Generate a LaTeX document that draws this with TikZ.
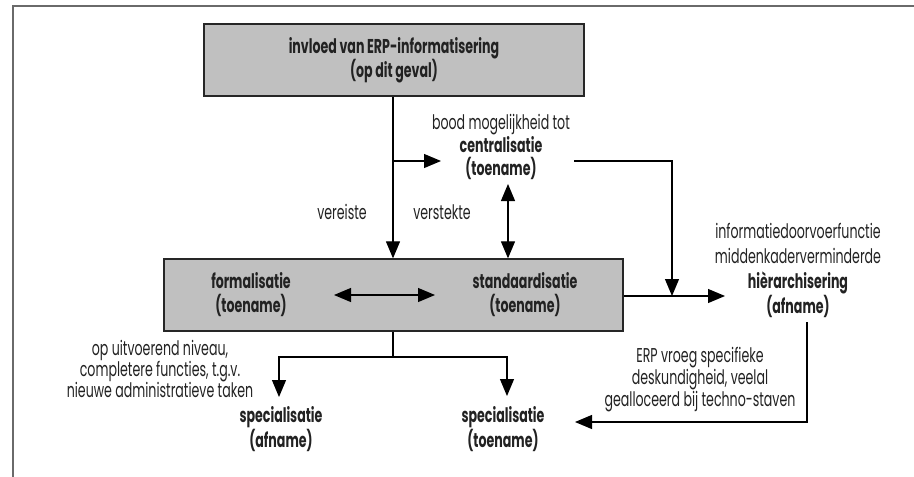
\documentclass[tikz,border=0pt]{standalone}
\usepackage{fontspec}
\setmainfont[FakeStretch=0.63]{Poppins}
\usetikzlibrary{arrows.meta}
\definecolor{boxgray}{HTML}{C0C0C0}
\definecolor{framegray}{HTML}{6A6A6A}
\definecolor{txt}{HTML}{222222}
\tikzset{
  box/.style={draw=black!85, line width=1.3pt, fill=boxgray, inner sep=0pt},
  lbl/.style={align=center, inner sep=0pt, text=txt, font=\fontsize{20}{23}\selectfont},
  conn/.style={line width=1.2pt, draw=black},
  arr/.style={conn, -{Triangle[length=17pt,width=14pt]}},
  darr/.style={conn, {Triangle[length=17pt,width=14pt]}-{Triangle[length=17pt,width=14pt]}},
}
\begin{document}
\begin{tikzpicture}[x=1pt,y=-1pt]
\useasboundingbox (0,0) rectangle (914,477);
% frame
\draw[framegray, line width=1.5pt] (13,477) -- (13,6) -- (914,6);
% boxes
\node[box, minimum width=380pt, minimum height=72pt] (top) at (394,60) {};
\node[lbl, font=\fontsize{20}{24}\selectfont\bfseries] (toptext) at (394,60) {invloed van ERP-informatisering\\(op dit geval)};
\node[box, minimum width=459pt, minimum height=72pt] (low) at (393.5,295) {};
\node[lbl, font=\fontsize{20}{24}\selectfont\bfseries] (form) at (251,295) {formalisatie\\(toename)};
\node[lbl, font=\fontsize{20}{24}\selectfont\bfseries] (stand) at (525,295) {standaardisatie\\(toename)};
% other labels
\node[lbl] (cent) at (501,147) {bood mogelijkheid tot\\\textbf{centralisatie}\\\textbf{(toename)}};
\node[lbl, font=\fontsize{20}{25}\selectfont] (hier) at (798,270.5) {informatiedoorvoerfunctie\\middenkaderverminderde\\\textbf{hièrarchisering}\\\textbf{(afname)}};
\node[lbl, font=\fontsize{20}{22}\selectfont] (specA) at (281,429) {\textbf{specialisatie}\\\textbf{(afname)}};
\node[lbl, font=\fontsize{20}{22}\selectfont] (specT) at (503,429) {\textbf{specialisatie}\\\textbf{(toename)}};
\node[lbl] (vereiste) at (342,212) {vereiste};
\node[lbl] (verstekte) at (442,212) {verstekte};
\node[lbl, font=\fontsize{20}{21}\selectfont] (uitv) at (160,369) {op uitvoerend niveau,\\completere functies, t.g.v.\\nieuwe administratieve taken};
\node[lbl, font=\fontsize{20}{22}\selectfont] (erp) at (700,380) {ERP vroeg specifieke\\deskundigheid, veelal\\gealloceerd bij techno-staven};
% connector points
\coordinate (branch) at (393,161);
\coordinate (centin) at (441,161);
\coordinate (centout) at (574,161);
\coordinate (corner) at (672,161);
\coordinate (join) at (672,296);
\coordinate (hierin) at (725,296);
\coordinate (fork) at (393,357);
\coordinate (specAin) at (279,397);
\coordinate (specTin) at (507,396);
\coordinate (hierout) at (807,322);
\coordinate (specTside) at (575,422);
\coordinate (stdup) at (508,184);
\coordinate (stdcol) at (508,259);
\coordinate (formarr) at (334,295);
\coordinate (stdarr) at (435,295);
% connectors
\draw[arr] (top.south -| branch) -- (low.north -| branch);
\draw[arr] (branch) -- (centin);
\draw[arr] (centout) -- (corner) -- (join);
\draw[arr] (low.east |- join) -- (hierin);
\draw[darr] (stdup) -- (low.north -| stdcol);
\draw[darr] (formarr) -- (stdarr);
\draw[conn] (low.south -| fork) -- (fork);
\draw[arr] (fork) -| (specAin);
\draw[arr] (fork) -| (specTin);
\draw[arr] (hierout) |- (specTside);
\end{tikzpicture}
\end{document}
